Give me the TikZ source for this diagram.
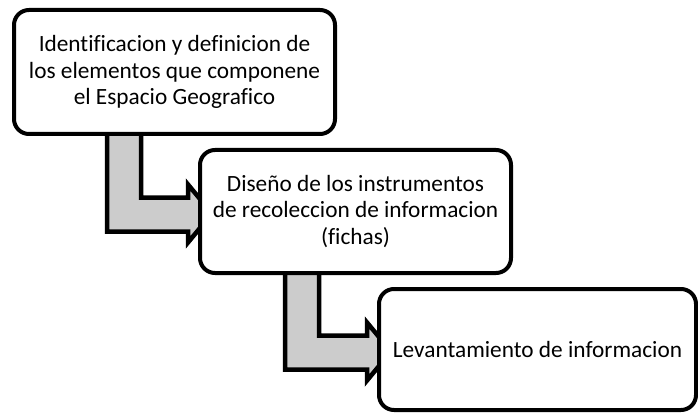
\documentclass[tikz,border=0pt]{standalone}
\usepackage{fontspec}
\setmainfont{Carlito}[Ligatures=NoCommon]
\usetikzlibrary{
		calc,
		backgrounds,
		positioning
	}
\tikzset{
		>=stealth,
		stagebox/.style={draw, fill=white, line width=4pt, rounded corners=15pt, align=center, inner sep=2pt, font=\fontsize{23.3}{26.5}\selectfont},
		arrowbody/.style={fill=gray!40, draw=black, line width=4.5pt, line join=miter}
	}

\begin{document}
\begin{tikzpicture}[x=1pt, y=-1pt]
            \useasboundingbox (0,0) rectangle (698,414);

            % etapas
            \node[stagebox, minimum width=321, minimum height=124] (ident) at (174.5, 72) {Identificacion y definicion de\\los elementos que componene\\el Espacio Geografico};
            \node[stagebox, minimum width=311, minimum height=123] (diseno) at (355.5, 211.5) {Diseño de los instrumentos\\de recoleccion de informacion\\(fichas)};
            \node[stagebox, minimum width=317, minimum height=121] (levant) at (537.5, 349.5) {Levantamiento de informacion};

            % flechas dobladas, detras de las cajas
            \begin{scope}[on background layer]
            \foreach \a/\b/\xa in {ident/diseno/95, diseno/levant/87}
            \filldraw[arrowbody] ($(\a.south west)+(\xa,-6)$) |- ($(\b.west)+(-10,20)$) -- ++(0,11)
                -- ($(\b.west)+(14,2)$) -- ($(\b.west)+(-10,-27)$) -- ++(0,13)
                -| ($(\a.south west)+(\xa+34,-6)$) -- cycle;
            \end{scope}

        \end{tikzpicture}
\end{document}
